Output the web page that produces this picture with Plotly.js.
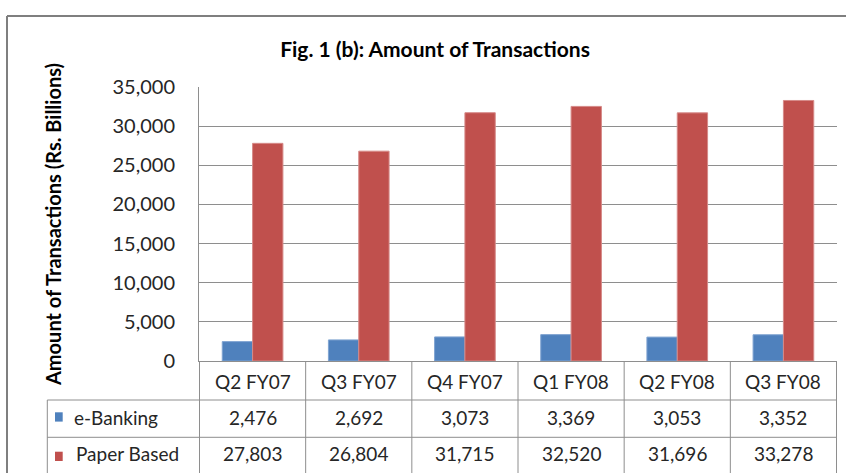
<!DOCTYPE html>
<html>
<head>
<meta charset="utf-8">
<script src="https://cdn.plot.ly/plotly-3.0.1.min.js"></script>
<style>
  html, body { margin: 0; padding: 0; background: #ffffff; }
  #chart { width: 846px; height: 473px; }
</style>
</head>
<body>
<div id="chart"></div>
<script>
// ---- data ----
const categories = ["Q2 FY07", "Q3 FY07", "Q4 FY07", "Q1 FY08", "Q2 FY08", "Q3 FY08"];
const eBanking = [2476, 2692, 3073, 3369, 3053, 3352];
const paperBased = [27803, 26804, 31715, 32520, 31696, 33278];
const seriesNames = ["e-Banking", "Paper Based"];
const seriesColors = ["#4F81BD", "#C0504D"];
const seriesEdges = ["#7FA3D1", "#D68A88"];
const yTicks = [0, 5000, 10000, 15000, 20000, 25000, 30000, 35000];
const chartTitle = "Fig. 1 (b): Amount of Transactions";
const yTitle = "Amount of Transactions (Rs. Billions)";

// ---- geometry (pixels) ----
const W = 846, H = 473;
const M = { l: 199, r: 9, t: 87, b: 112 };
const PW = W - M.l - M.r, PH = H - M.t - M.b;
const px = x => (x - M.l) / PW;        // pixel x -> paper x
const py = y => (H - M.b - y) / PH;    // pixel y -> paper y

const FONT = "Lato, Carlito, Calibri, 'Open Sans', sans-serif";
const TXT = "#262626";
const LINE = "#8E8E8E";

const allSeries = [eBanking, paperBased];
const traces = allSeries.map((vals, i) => ({
  type: "bar",
  name: seriesNames[i],
  x: categories,
  y: vals,
  marker: { color: seriesColors[i], line: { color: seriesEdges[i], width: 1 } },
  hoverinfo: "skip"
}));

const shapes = [];
const annotations = [];
// outer chart border (left + top)
shapes.push({ type: "line", xref: "paper", yref: "paper", x0: px(7), x1: px(7), y0: py(16), y1: py(H + 2), line: { color: "#7F7F7F", width: 2 } });
shapes.push({ type: "line", xref: "paper", yref: "paper", x0: px(7), x1: px(W + 2), y0: py(16), y1: py(16), line: { color: "#7F7F7F", width: 2 } });

// data table lines
const rowLines = [400, 437.3];
rowLines.forEach(y => shapes.push({ type: "line", xref: "paper", yref: "paper", x0: px(47.3), x1: 1, y0: py(y), y1: py(y), line: { color: LINE, width: 1 } }));
shapes.push({ type: "line", xref: "paper", yref: "paper", x0: px(47.3), x1: px(47.3), y0: py(400), y1: py(H + 2), line: { color: LINE, width: 1 } });
for (let k = 0; k <= categories.length; k++) {
  shapes.push({ type: "line", xref: "x", yref: "paper", x0: k - 0.5, x1: k - 0.5, y0: 0, y1: py(H + 2), line: { color: LINE, width: 1 } });
}

// category row
categories.forEach((c, k) => annotations.push({
  xref: "x", yref: "paper", x: k, y: py(381), text: c, showarrow: false,
  xanchor: "center", yanchor: "middle", font: { family: FONT, size: 19, color: TXT }
}));

// series rows
const rowCenters = [417.5, 453];
const keyTops = [412.3, 451.7];
allSeries.forEach((vals, i) => {
  shapes.push({ type: "rect", xref: "paper", yref: "paper", x0: px(55), x1: px(62.7), y0: py(keyTops[i]), y1: py(keyTops[i] + 9.3), fillcolor: seriesColors[i], line: { width: 0 } });
  annotations.push({
    xref: "paper", yref: "paper", x: px(i === 0 ? 72 : 73.5), y: py(rowCenters[i]), text: seriesNames[i], showarrow: false,
    xanchor: "left", yanchor: "middle", font: { family: FONT, size: 19, color: TXT }
  });
  vals.forEach((v, k) => annotations.push({
    xref: "x", yref: "paper", x: k, y: py(rowCenters[i]), text: v.toLocaleString("en-US"), showarrow: false,
    xanchor: "center", yanchor: "middle", font: { family: FONT, size: 19, color: TXT }
  }));
});

const layout = {
  width: W, height: H,
  margin: M,
  paper_bgcolor: "#ffffff",
  plot_bgcolor: "#ffffff",
  showlegend: false,
  barmode: "group",
  bargap: 1.5 / 3.5,
  bargroupgap: 0,
  title: {
    text: chartTitle,
    font: { family: FONT, size: 21, weight: 700, color: "#000000" },
    x: 435 / W, xref: "container", xanchor: "center",
    y: 1 - 50 / H, yref: "container", yanchor: "middle"
  },
  xaxis: {
    type: "category",
    showticklabels: false,
    showgrid: false,
    zeroline: false,
    showline: true, linecolor: LINE, linewidth: 1,
    ticks: "",
    fixedrange: true
  },
  yaxis: {
    range: [0, 35000],
    tickvals: yTicks,
    tickformat: ",d",
    showgrid: true, gridcolor: LINE, gridwidth: 1,
    zeroline: false,
    showline: true, linecolor: LINE, linewidth: 1,
    ticks: "",
    ticklabelstandoff: 19,
    tickfont: { family: FONT, size: 20, color: TXT },
    title: { text: yTitle, font: { family: FONT, size: 20, weight: 700, color: "#000000" }, standoff: 45 },
    automargin: false,
    fixedrange: true
  },
  shapes: shapes,
  annotations: annotations
};

Plotly.newPlot("chart", traces, layout, { displayModeBar: false, staticPlot: true });
</script>
</body>
</html>
